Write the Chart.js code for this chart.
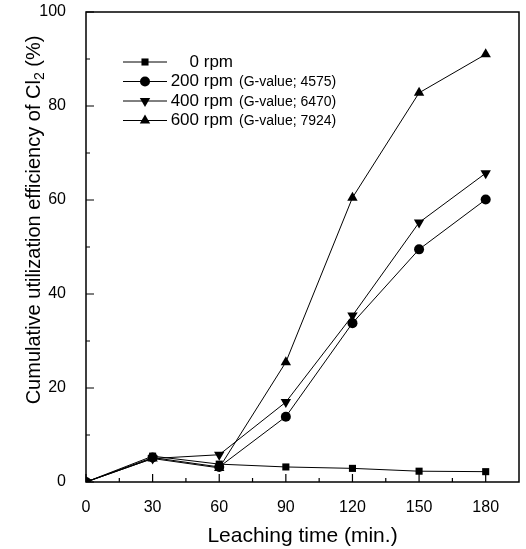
<!DOCTYPE html>
<html>
<head>
<meta charset="utf-8">
<script src="https://cdn.jsdelivr.net/npm/chart.js@4/dist/chart.umd.min.js"></script>
<style>
  html, body { margin: 0; padding: 0; background: #fff; }
  #wrap { width: 526px; height: 549px; }
</style>
</head>
<body>
<div id="wrap"><canvas id="chart" width="526" height="549"></canvas></div>
<script>
// Leaching time (min.) and cumulative Cl2 utilization efficiency (%) per stirring speed
const times = [0, 30, 60, 90, 120, 150, 180];
const rpm0 = [0, 5.5, 3.8, 3.2, 2.9, 2.3, 2.2];
const rpm200 = [0, 5.2, 3.2, 13.9, 33.8, 49.5, 60.1];
const rpm400 = [0, 5.0, 5.8, 17.0, 35.4, 55.2, 65.7];
const rpm600 = [0, 5.0, 3.0, 25.5, 60.5, 82.8, 91.0];

const seriesNames = ['0 rpm', '200 rpm', '400 rpm', '600 rpm'];
const gValues = ['', '(G-value; 4575)', '(G-value; 6470)', '(G-value; 7924)'];
const xTicks = [0, 30, 60, 90, 120, 150, 180];
const yTicks = [0, 20, 40, 60, 80, 100];
const xMinorTicks = [15, 45, 75, 105, 135, 165];
const yMinorTicks = [10, 30, 50, 70, 90];

const FONT = '"Liberation Sans", Arial, Helvetica, sans-serif';
const NARROW = '"Liberation Sans Narrow", "Liberation Sans", Arial, sans-serif';

function toPoints(values) {
    return times.map((t, i) => ({ x: t, y: values[i] }));
}

const markers = [
    { style: 'rect', radius: 5 },
    { style: 'circle', radius: 5 },
    { style: 'triangle', radius: 6, rotation: 180 },
    { style: 'triangle', radius: 6, rotation: 0 }
];

const datasets = [rpm0, rpm200, rpm400, rpm600].map((vals, i) => ({
    label: seriesNames[i],
    data: toPoints(vals),
    borderColor: '#000',
    backgroundColor: '#000',
    borderWidth: 1,
    pointStyle: markers[i].style,
    pointRadius: markers[i].radius,
    pointRotation: markers[i].rotation || 0,
    pointBorderWidth: 0,
    tension: 0
}));

// Frame, inward ticks, y title and the legend are drawn here
const framePlugin = {
    id: 'frame',
    afterDraw(chart) {
        const ctx = chart.ctx;
        const area = chart.chartArea;
        const xs = chart.scales.x;
        const ys = chart.scales.y;
        ctx.save();
        ctx.strokeStyle = '#000';
        ctx.lineWidth = 1.5;
        ctx.strokeRect(area.left, area.top, area.right - area.left, area.bottom - area.top);

        ctx.lineWidth = 1.2;
        ctx.beginPath();
        xTicks.forEach(v => {
            const px = xs.getPixelForValue(v);
            ctx.moveTo(px, area.bottom);
            ctx.lineTo(px, area.bottom - 8);
        });
        xMinorTicks.forEach(v => {
            const px = xs.getPixelForValue(v);
            ctx.moveTo(px, area.bottom);
            ctx.lineTo(px, area.bottom - 4);
        });
        yTicks.forEach(v => {
            const py = ys.getPixelForValue(v);
            ctx.moveTo(area.left, py);
            ctx.lineTo(area.left + 8, py);
        });
        yMinorTicks.forEach(v => {
            const py = ys.getPixelForValue(v);
            ctx.moveTo(area.left, py);
            ctx.lineTo(area.left + 4, py);
        });
        ctx.stroke();

        // y axis title (rotated, with subscript)
        ctx.save();
        ctx.translate(34, 220);
        ctx.rotate(-Math.PI / 2);
        ctx.fillStyle = '#000';
        ctx.textBaseline = 'middle';
        const partA = 'Cumulative utilization efficiency of Cl';
        const partB = ' (%)';
        ctx.font = '20px ' + FONT;
        const wA = ctx.measureText(partA).width;
        const wB = ctx.measureText(partB).width;
        ctx.font = '14px ' + FONT;
        const wSub = ctx.measureText('2').width;
        const start = -(wA + wSub + wB) / 2;
        ctx.textAlign = 'left';
        ctx.font = '20px ' + FONT;
        ctx.fillText(partA, start, 0);
        ctx.font = '14px ' + FONT;
        ctx.fillText('2', start + wA, 6);
        ctx.font = '20px ' + FONT;
        ctx.fillText(partB, start + wA + wSub, 0);
        ctx.restore();

        // legend
        const lx0 = 123, lx1 = 167, top = 62, step = 19.5;
        chart.data.datasets.forEach((ds, i) => {
            const y = top + i * step;
            ctx.strokeStyle = '#000';
            ctx.lineWidth = 1;
            ctx.beginPath();
            ctx.moveTo(lx0, y);
            ctx.lineTo(lx1, y);
            ctx.stroke();
            ctx.fillStyle = '#000';
            Chart.helpers.drawPoint(ctx, {
                pointStyle: ds.pointStyle,
                radius: ds.pointRadius,
                rotation: ds.pointRotation,
                borderWidth: 0
            }, (lx0 + lx1) / 2, y);
            ctx.fillStyle = '#000';
            ctx.textBaseline = 'middle';
            ctx.font = '17px ' + NARROW;
            ctx.textAlign = 'right';
            ctx.fillText(ds.label, 233, y);
            if (gValues[i]) {
                ctx.textAlign = 'left';
                ctx.font = '14px ' + NARROW;
                ctx.fillText(gValues[i], 239, y + 1);
            }
        });
        ctx.restore();
    }
};

new Chart(document.getElementById('chart'), {
    type: 'line',
    data: { datasets: datasets },
    options: {
        responsive: false,
        animation: false,
        devicePixelRatio: 1,
        layout: { padding: { top: 12, right: 7, left: 0, bottom: 0 } },
        plugins: {
            legend: { display: false },
            tooltip: { enabled: false }
        },
        scales: {
            x: {
                type: 'linear',
                min: 0,
                max: 195,
                afterBuildTicks: s => { s.ticks = xTicks.map(v => ({ value: v })); },
                afterFit: s => { s.height = 67; s.paddingLeft = 0; s.paddingRight = 0; },
                grid: { display: false },
                border: { display: false },
                ticks: { color: '#000', font: { family: NARROW, size: 16 }, padding: 8, maxRotation: 0 },
                title: {
                    display: true,
                    text: 'Leaching time (min.)',
                    color: '#000',
                    font: { family: FONT, size: 21 },
                    padding: { top: 0, bottom: 0 }
                }
            },
            y: {
                min: 0,
                max: 100,
                afterBuildTicks: s => { s.ticks = yTicks.map(v => ({ value: v })); },
                afterFit: s => { s.width = 86; s.paddingTop = 0; s.paddingBottom = 0; },
                grid: { display: false },
                border: { display: false },
                ticks: { color: '#000', font: { family: NARROW, size: 16 }, padding: 12 },
                title: { display: false }
            }
        }
    },
    plugins: [framePlugin]
});
</script>
</body>
</html>
